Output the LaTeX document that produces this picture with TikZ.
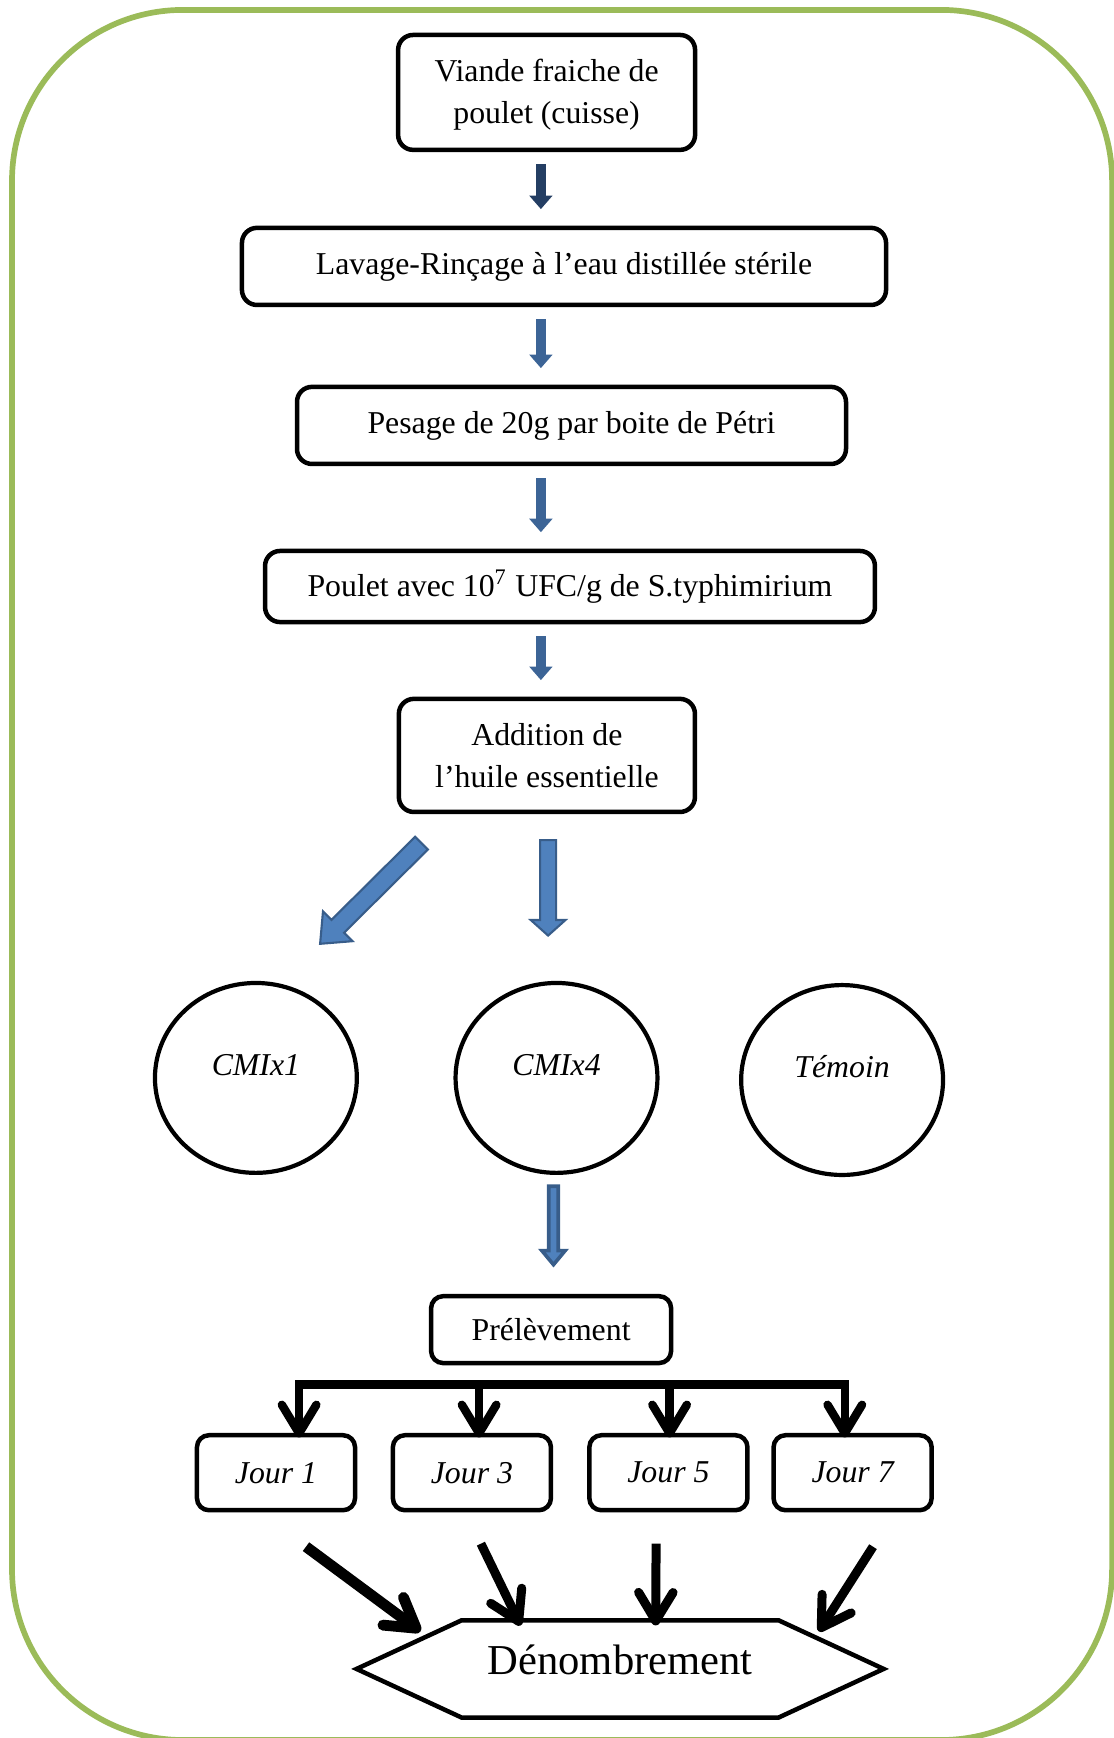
\documentclass[tikz,border=0pt]{standalone}
\usepackage{fontspec}
\setmainfont{Liberation Serif}
\usetikzlibrary{calc,positioning,arrows.meta,shapes.geometric}
\definecolor{framegreen}{RGB}{155,187,89}
\definecolor{navyarrow}{RGB}{36,62,99}
\definecolor{bluearrow}{RGB}{60,100,150}
\definecolor{blockfill}{RGB}{79,129,189}
\definecolor{blockline}{RGB}{56,93,138}
\newcommand{\stepfont}{\fontsize{10.6}{14}\selectfont}
% block arrow: [style] tail, tip, half shaft, half head, head length
\newcommand{\blockarrow}[6][]{%
  \coordinate (ba-h) at ($(#3)!#6!(#2)$);
  \draw[blockarr,#1] ($(#2)!#4!90:(#3)$) -- ($(ba-h)!#4!-90:(#2)$)
    -- ($(ba-h)!#5!-90:(#2)$) -- (#3) -- ($(ba-h)!#5!90:(#2)$)
    -- ($(ba-h)!#4!90:(#2)$) -- ($(#2)!#4!-90:(#3)$) -- cycle;}

\begin{document}
\begin{tikzpicture}[x=1pt,y=-1pt,
  stepbox/.style={draw, line width=1.5pt, rounded corners=5pt,
    align=center, inner sep=0pt, font=\stepfont},
  dose/.style={draw, ellipse, line width=1.4pt, minimum width=67.3pt,
    minimum height=63.3pt, inner sep=0pt, font=\stepfont\itshape,
    text height=7pt, text depth=8.6pt},
  daybox/.style={draw, line width=1.5pt, rounded corners=4pt,
    minimum width=52.7pt, minimum height=25pt, inner sep=0pt,
    font=\stepfont\itshape},
  downarr/.style={line width=3.33pt, -{Triangle[length=4.5pt,width=7.5pt]},
    shorten <=4pt, shorten >=5.5pt},
  blockarr/.style={draw=blockline, fill=blockfill, line width=0.7pt},
  blackarr/.style={line width=3pt, -{Straight Barb[length=9.5pt,width=11.5pt,round]}},
]
  \useasboundingbox (0,0) rectangle (371.33,579.33);
  \draw[framegreen, line width=1.9pt, rounded corners=57pt]
    (4,3.3) rectangle (370.7,580);

  % preparation steps
  \node[stepbox, minimum width=99pt, minimum height=38.3pt] (viande)
    at (182.2,30.8) {\rule{0pt}{9pt}Viande fraiche de\\poulet (cuisse)};
  \node[stepbox, minimum width=214.7pt, minimum height=25.7pt] (lavage)
    at (188,88.8) {Lavage-Rinçage à l’eau distillée stérile};
  \node[stepbox, minimum width=183pt, minimum height=25.7pt] (pesage)
    at (190.5,141.8) {Pesage de 20g par boite de Pétri};
  \node[stepbox, minimum width=203.3pt, minimum height=23.7pt] (poulet)
    at (190,195.5) {Poulet avec 10\textsuperscript{7} UFC/g de S.typhimirium};
  \node[stepbox, minimum width=98.7pt, minimum height=37.7pt] (addition)
    at (182.3,251.8) {Addition de\\l’huile essentielle};

  \coordinate (axis) at (180.3,0);
  \draw[downarr, navyarrow] (viande.south -| axis) -- (lavage.north -| axis);
  \draw[downarr, bluearrow] (lavage.south -| axis) -- (pesage.north -| axis);
  \draw[downarr, bluearrow] (pesage.south -| axis) -- (poulet.north -| axis);
  \draw[downarr, bluearrow] (poulet.south -| axis) -- (addition.north -| axis);

  % doses
  \node[dose] (cmix1) at (85.3,359.3) {CMIx1};
  \node[dose] (cmix4) at (185.5,359.3) {CMIx4};
  \node[dose] (temoin) at (280.7,360) {Témoin};

  \coordinate (d1s) at ($(addition.south west)+(8.3,9.65)$);
  \coordinate (d1e) at ($(cmix1.north)+(21.4,-12.35)$);
  \blockarrow{d1s}{d1e}{3pt}{7pt}{8.3pt}
  \coordinate (d4s) at ($(addition.south)+(0.4,8.65)$);
  \coordinate (d4e) at ($(cmix4.north)+(-2.8,-15.1)$);
  \blockarrow{d4s}{d4e}{2.65pt}{5.8pt}{5.2pt}

  % sampling
  \node[stepbox, rounded corners=4pt, minimum width=80pt, minimum height=22.3pt]
    (prelev) at (183.7,443.2) {Prélèvement};
  \coordinate (p4s) at ($(cmix4.south)+(-1,3.75)$);
  \coordinate (p4e) at ($(prelev.north)+(0.8,-9.75)$);
  \blockarrow[line width=1.2pt]{p4s}{p4e}{1.57pt}{3.9pt}{4.7pt}

  \node[daybox] (jour1) at (92,490.9) {Jour 1};
  \node[daybox] (jour3) at (157.3,490.9) {Jour 3};
  \node[daybox] (jour5) at (222.8,490.9) {Jour 5};
  \node[daybox] (jour7) at (284.2,490.9) {Jour 7};

  \draw[line width=2.8pt] ($(jour1.north)+(7.7,-16.2)$) -- ($(jour7.north)+(-2.6,-16.2)$);
  \foreach \j/\dx in {jour1/7.7, jour3/2.4, jour5/0.4, jour7/-2.6}
    \draw[blackarr, line width=2.8pt] ($(\j.north)+(\dx,-17.6)$) -- ($(\j.north)+(\dx,1.5)$);

  % counting
  \node[minimum width=175.3pt, minimum height=32pt, inner sep=0pt,
    text height=10pt, text depth=6.6pt, font=\fontsize{14.2}{16}\selectfont]
    (denomb) at (206.7,556.3) {Dénombrement};
  \draw[line width=1.5pt] (denomb.west) -- ($(denomb.north west)+(35,0)$)
    -- ($(denomb.north east)+(-35,0)$) -- (denomb.east)
    -- ($(denomb.south east)+(-35,0)$) -- ($(denomb.south west)+(35,0)$) -- cycle;

  \draw[blackarr, line width=3.6pt] ($(jour1.south)+(10,11.4)$) -- ($(denomb.north west)+(21.3,3.7)$);
  \draw[blackarr] ($(jour3.south)+(3,10.4)$) -- ($(denomb.north west)+(54.7,1.7)$);
  \draw[blackarr] ($(jour5.south)+(-4.1,10.4)$) -- ($(denomb.north west)+(99.7,1.7)$);
  \draw[blackarr] ($(jour7.south)+(6.8,11.4)$) -- ($(denomb.north east)+(-21.6,3.7)$);
\end{tikzpicture}
\end{document}
